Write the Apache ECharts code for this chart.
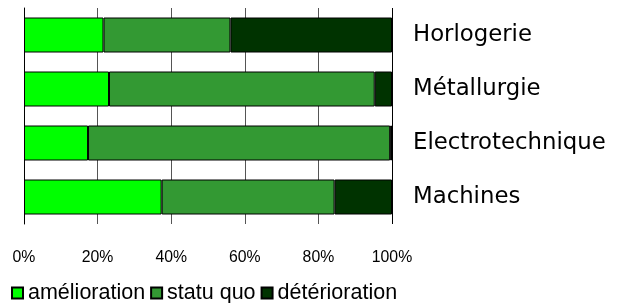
<!DOCTYPE html>
<html>
<head>
<meta charset="utf-8">
<script src="https://cdn.jsdelivr.net/npm/echarts@6/dist/echarts.min.js"></script>
<style>html,body{margin:0;padding:0;background:#fff}#c{width:621px;height:303px}</style>
</head>
<body>
<div id="c"></div>
<script>
const categories = ['Horlogerie', 'Métallurgie', 'Electrotechnique', 'Machines'];
const seriesNames = ['amélioration', 'statu quo', 'détérioration'];
const amelioration = [21.6, 23.1, 17.4, 37.4];
const statuQuo = [34.5, 72.2, 82.1, 47.0];
const deterioration = [43.9, 4.7, 0.5, 15.6];
const xTicks = [0, 20, 40, 60, 80, 100];
const colors = ['#00ff00', '#339933', '#003300'];

const chart = echarts.init(document.getElementById('c'), null, {renderer: 'canvas'});
const values = [amelioration, statuQuo, deterioration];
chart.setOption({
  animation: false,
  grid: {left: 24, right: 229, top: 8, bottom: 79, containLabel: false},
  legend: {
    left: 11, top: 282, padding: 0, itemGap: 5, itemWidth: 11, itemHeight: 11, icon: 'rect',
    textStyle: {fontFamily: 'Liberation Sans', fontSize: 21.5, color: '#000', padding: [0, 0, 0, 0]},
    data: seriesNames
  },
  xAxis: {
    type: 'value', min: xTicks[0], max: xTicks[xTicks.length - 1], interval: 20,
    axisLine: {show: false}, axisTick: {show: false},
    axisLabel: {margin: 26, formatter: '{value}%', fontFamily: 'Liberation Sans', fontSize: 15.8, color: '#000'},
    splitLine: {show: true, lineStyle: {color: ['#000', '#555', '#555', '#555', '#555', '#000'], width: 1}}
  },
  yAxis: {
    type: 'category', data: categories, inverse: true, position: 'right',
    axisLine: {show: true, lineStyle: {color: '#000', width: 1}},
    axisTick: {show: false},
    axisLabel: {margin: 21, fontFamily: 'DejaVu Sans', fontSize: 22.8, color: '#000', padding: [3, 0, 0, 0]}
  },
  series: seriesNames.map((n, i) => ({
    name: n, type: 'bar', stack: 'total', data: values[i], barWidth: 35,
    itemStyle: {color: colors[i], borderColor: '#000', borderWidth: 1}
  }))
});
</script>
</body>
</html>
